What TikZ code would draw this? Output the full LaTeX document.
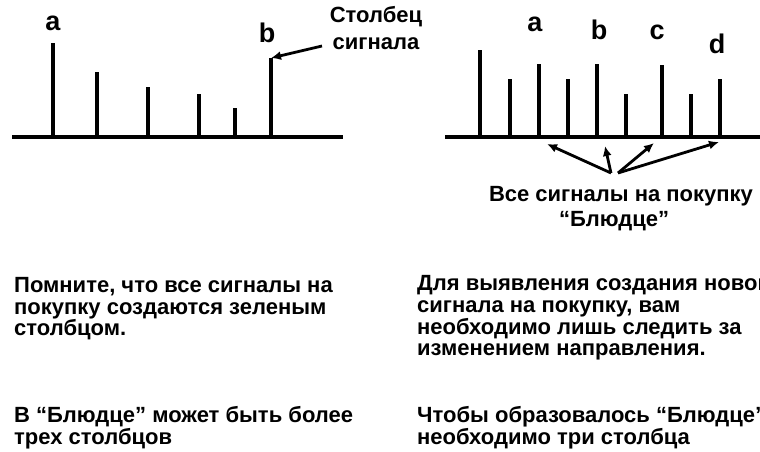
\documentclass[tikz,border=0pt]{standalone}
\usepackage{fontspec}
\setmainfont{Liberation Sans}
\usetikzlibrary{arrows.meta}
\begin{document}
\begin{tikzpicture}[x=1pt,y=-1pt,
  barline/.style={line width=4.2pt},
  baseline/.style={line width=3.8pt},
  lbl/.style={font=\bfseries\fontsize{27}{27}\selectfont, anchor=base, inner sep=0pt},
  txt/.style={font=\bfseries\fontsize{22}{22}\selectfont, anchor=base west, inner sep=0pt},
  ctxt/.style={font=\bfseries\fontsize{22}{22}\selectfont, anchor=base, inner sep=0pt},
  arr/.style={line width=2.8pt, -{Latex[length=10pt,width=9pt]}}]
\useasboundingbox (0,0) rectangle (760,452);
\clip (0,0) rectangle (760,452);
% left chart
\draw[baseline] (12,137) -- (343,137);
\foreach \x/\t [count=\i] in {53/43,97/72,148/87,199/94,235/108,271/58}
  \draw[barline] (\x,137) -- (\x,\t) coordinate (L\i);
\node[lbl] (la) at (53,31) {a};
\node[lbl] (lb) at (267,43) {b};
\node[ctxt] (st) at (376,23) {Столбец};
\node[ctxt] (sg) at (376,50) {сигнала};
\coordinate (st0) at (322,46);
\draw[arr] (st0) -- (L6);
% right chart
\draw[baseline] (445,137) -- (762,137);
\foreach \x/\t [count=\i] in {480/50,510/79,539/64,568/79,597/64,626/94,662/65,691/94,720/79}
  \draw[barline] (\x,137) -- (\x,\t) coordinate (R\i);
\node[lbl] (ra) at (535,32) {a};
\node[lbl] (rb) at (599,40) {b};
\node[lbl] (rc) at (657,40) {c};
\node[lbl] (rd) at (717,53) {d};
\coordinate (o1) at (611,173);
\coordinate (o2) at (618,173);
\coordinate (h1) at (547,144);
\coordinate (h2) at (605,146);
\coordinate (h3) at (654,143);
\coordinate (h4) at (719,142);
\draw[arr] (o1) -- (h1);
\draw[arr] (o1) -- (h2);
\draw[arr] (o2) -- (h3);
\draw[arr] (o2) -- (h4);
\node[ctxt] (vs) at (621,201) {Все сигналы на покупку};
\node[ctxt] (bl) at (614,226) {“Блюдце”};
% bottom text left
\node[txt] (t1) at (14,292.5) {Помните, что все сигналы на};
\node[txt] (t2) at (14,314.5) {покупку создаются зеленым};
\node[txt] (t3) at (14,335.5) {столбцом.};
\node[txt] (t4) at (14,422.5) {В “Блюдце” может быть более};
\node[txt] (t5) at (14,444.5) {трех столбцов};
% bottom text right
\node[txt] (u1) at (417,290.5) {Для выявления создания нового};
\node[txt] (u2) at (417,312.5) {сигнала на покупку, вам};
\node[txt] (u3) at (417,334.5) {необходимо лишь следить за};
\node[txt] (u4) at (417,355.5) {изменением направления.};
\node[txt] (u5) at (417,422.5) {Чтобы образовалось “Блюдце”,};
\node[txt] (u6) at (417,444.5) {необходимо три столбца};
\end{tikzpicture}
\end{document}
